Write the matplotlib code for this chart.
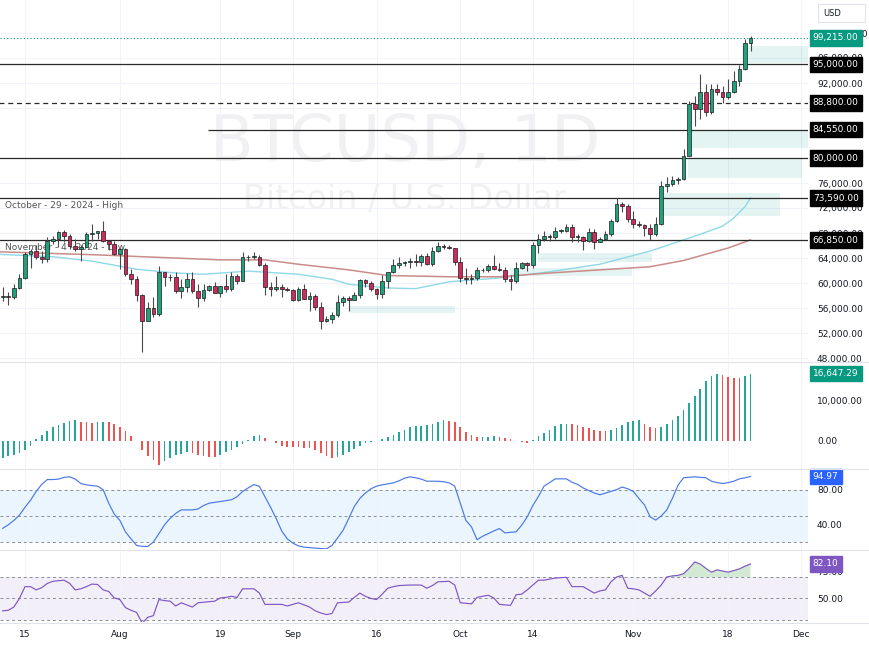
import numpy as np
import pandas as pd
import matplotlib
matplotlib.use("Agg")
import matplotlib.pyplot as plt
from matplotlib.patches import Rectangle
from matplotlib.lines import Line2D
from matplotlib.transforms import blended_transform_factory

# --- daily BTCUSD candles, 2024-07-11 .. 2024-11-22 (thousands USD) ---
start = pd.Timestamp("2024-07-11")
opens = [57.7, 57.9, 57.7, 59.2, 60.8, 64.7, 65.1, 64.1, 63.9, 66.7,
         67.1, 68.2, 67.6, 65.9, 65.4, 65.8, 67.9, 68.0, 68.3, 66.8,
         66.2, 64.6, 65.4, 61.5, 60.7, 58.1, 54.0, 56.0, 55.1, 61.7,
         60.9, 60.9, 58.7, 59.4, 60.6, 58.7, 57.6, 58.9, 59.5, 58.4,
         59.5, 59.0, 61.2, 60.4, 64.1, 64.2, 64.2, 62.9, 59.4, 59.0,
         59.4, 59.1, 58.9, 57.3, 59.1, 57.5, 58.0, 56.2, 53.9, 54.2,
         54.9, 57.0, 57.6, 57.3, 58.1, 60.5, 60.0, 59.1, 58.2, 60.3,
         61.8, 62.9, 63.2, 63.4, 63.6, 63.3, 64.3, 63.1, 65.2, 65.9,
         65.8, 65.6, 63.3, 60.8, 60.6, 60.8, 62.1, 62.1, 62.8, 62.2,
         62.1, 60.6, 60.3, 62.4, 63.2, 62.9, 66.1, 67.0, 67.6, 67.4,
         68.4, 68.4, 69.0, 67.4, 67.4, 66.7, 68.2, 66.6, 67.0, 67.9,
         69.9, 72.7, 72.3, 70.2, 69.5, 69.3, 68.8, 67.8, 69.4, 75.6,
         75.9, 76.5, 76.7, 80.4, 88.7, 87.9, 90.5, 87.3, 91.0, 90.6,
         89.8, 90.5, 92.3, 94.3, 98.4]
highs = [59.4, 58.5, 59.8, 61.4, 64.9, 65.4, 66.1, 65.1, 67.4, 67.6,
         68.4, 68.5, 67.8, 67.1, 66.1, 68.2, 69.4, 68.3, 70.0, 66.9,
         66.8, 65.6, 65.6, 62.2, 61.1, 58.3, 57.0, 57.7, 62.7, 61.7,
         61.4, 61.7, 60.7, 61.6, 61.8, 59.8, 59.8, 59.7, 60.2, 59.6,
         61.4, 61.8, 61.4, 64.9, 64.5, 64.9, 64.5, 63.2, 60.2, 61.2,
         59.9, 59.4, 59.0, 59.4, 59.8, 58.5, 58.3, 56.9, 54.8, 55.3,
         58.1, 58.0, 57.9, 58.6, 60.6, 60.6, 60.4, 59.2, 61.3, 61.8,
         63.9, 64.1, 63.6, 64.0, 64.7, 64.7, 64.8, 65.8, 66.5, 66.3,
         66.1, 65.6, 64.1, 62.4, 61.5, 62.5, 62.4, 63.0, 64.5, 63.2,
         62.5, 61.3, 63.4, 63.4, 63.3, 66.5, 67.9, 68.4, 67.9, 68.9,
         68.7, 69.4, 69.5, 67.8, 67.5, 68.8, 68.7, 67.3, 68.3, 70.3,
         73.6, 72.9, 72.7, 71.6, 70.0, 69.4, 69.5, 70.6, 76.4, 76.9,
         77.2, 76.9, 81.5, 89.1, 89.9, 93.5, 91.8, 91.8, 91.8, 91.5,
         92.6, 94.0, 94.9, 99.0, 99.6]
lows = [57.2, 56.5, 57.4, 59.0, 60.6, 62.4, 63.9, 63.2, 63.3, 66.3,
        65.8, 66.6, 65.5, 65.1, 63.5, 65.8, 66.7, 67.1, 66.5, 65.3,
        64.5, 62.3, 61.2, 59.9, 57.2, 49.0, 53.9, 54.6, 54.8, 59.6,
        60.3, 58.4, 57.6, 58.5, 58.4, 56.1, 57.1, 58.8, 58.4, 57.8,
        58.6, 58.8, 59.8, 60.3, 63.6, 63.8, 62.8, 58.1, 57.9, 58.8,
        57.8, 58.8, 57.2, 57.1, 57.4, 55.6, 55.7, 52.6, 53.7, 53.6,
        54.6, 56.4, 55.6, 57.3, 57.6, 59.4, 58.7, 57.5, 57.6, 59.2,
        61.6, 62.4, 62.8, 62.4, 62.7, 62.7, 62.9, 62.7, 64.9, 65.4,
        65.4, 62.9, 60.2, 59.9, 59.9, 60.5, 61.7, 61.8, 62.1, 61.9,
        60.2, 58.9, 60.0, 62.3, 62.0, 62.4, 64.8, 66.8, 66.7, 67.1,
        68.0, 68.1, 66.6, 66.6, 65.3, 66.6, 65.5, 66.6, 66.9, 67.5,
        69.7, 71.4, 69.7, 68.8, 69.0, 67.5, 66.85, 67.5, 69.3, 74.5,
        75.6, 75.9, 76.5, 80.3, 85.1, 86.2, 86.7, 87.1, 90.1, 88.8,
        89.4, 90.4, 91.5, 94.1, 97.2]
closes = [57.9, 57.7, 59.2, 60.8, 64.7, 65.1, 64.1, 63.9, 66.7, 67.1,
          68.2, 67.6, 65.9, 65.4, 65.8, 67.9, 68.0, 68.3, 66.8, 66.2,
          64.6, 65.4, 61.5, 60.7, 58.1, 54.0, 56.0, 55.1, 61.7, 60.9,
          60.9, 58.7, 59.4, 60.6, 58.7, 57.6, 58.9, 59.5, 58.4, 59.5,
          59.0, 61.2, 60.4, 64.1, 64.2, 64.2, 62.9, 59.4, 59.0, 59.4,
          59.1, 58.9, 57.3, 59.1, 57.5, 58.0, 56.2, 53.9, 54.2, 54.9,
          57.0, 57.6, 57.3, 58.1, 60.5, 60.0, 59.1, 58.2, 60.3, 61.8,
          62.9, 63.2, 63.4, 63.6, 63.3, 64.3, 63.1, 65.2, 65.9, 65.8,
          65.6, 63.3, 60.8, 60.6, 60.8, 62.1, 62.1, 62.8, 62.2, 62.1,
          60.6, 60.3, 62.4, 63.2, 62.9, 66.1, 67.0, 67.6, 67.4, 68.4,
          68.4, 69.0, 67.4, 67.4, 66.7, 68.2, 66.6, 67.0, 67.9, 69.9,
          72.7, 72.3, 70.2, 69.5, 69.3, 68.8, 67.8, 69.4, 75.6, 75.9,
          76.5, 76.7, 80.4, 88.7, 87.9, 90.5, 87.3, 91.0, 90.6, 89.8,
          90.5, 92.3, 94.3, 98.4, 99.215]

# momentum histogram (thousands)
hist = [-4.2, -3.8, -3.4, -3.0, -2.2, -1.2, 0.6, 1.5, 2.5, 3.5,
        3.9, 4.5, 5.0, 5.1, 4.7, 4.6, 4.5, 4.6, 4.8, 4.8,
        4.3, 3.5, 2.5, 1.2, -0.1, -2.2, -3.8, -4.6, -5.9, -5.0,
        -4.2, -3.4, -3.2, -2.8, -3.0, -3.4, -3.8, -3.9, -4.0, -3.4,
        -2.8, -2.2, -1.5, -0.7, 0.2, 1.2, 1.5, 0.7, 0.05, -0.6,
        -1.2, -1.5, -1.55, -1.6, -1.65, -1.8, -2.2, -3.0, -3.8, -4.2,
        -4.0, -3.4, -2.8, -2.0, -1.2, -0.6, -0.2, 0.1, 0.4, 0.9,
        1.5, 2.3, 2.8, 3.5, 3.6, 3.7, 3.9, 4.3, 4.7, 5.1,
        4.9, 4.7, 3.5, 2.3, 1.5, 0.9, 1.0, 1.1, 1.2, 1.1,
        0.7, 0.4, 0.1, -0.2, -0.4, 0.2, 1.2, 2.0, 2.8, 3.7,
        4.1, 4.3, 4.1, 3.9, 3.5, 3.1, 2.7, 2.5, 2.45, 2.7,
        3.1, 3.9, 4.7, 5.0, 5.1, 4.3, 3.5, 3.1, 3.5, 4.1,
        5.1, 6.1, 7.7, 9.3, 11.2, 12.8, 14.7, 16.1, 16.5, 16.3,
        15.8, 15.6, 15.55, 16.0, 16.64729]

stoch = [36, 40, 45, 51, 60, 68, 78, 86, 91.5, 91.5,
         92, 94, 94.6, 92, 87, 85.5, 84.6, 84, 80, 64.6,
         52, 45, 32, 24, 16.5, 15.5, 15.4, 20.4, 30, 40,
         47.3, 53, 57, 57, 57, 58, 62, 64.6, 65.5, 66.5,
         67.5, 68.5, 72, 78, 82, 85.8, 83.8, 72, 60, 47.3,
         33, 24, 19.2, 16, 14.6, 14, 13.5, 13, 12.7, 16.5,
         25, 33.8, 47, 60.8, 70, 76.2, 81, 84, 85.5, 86.5,
         87.7, 90, 93, 94.6, 93.5, 92, 89.6, 89.6, 89.6, 89,
         87.7, 84, 64.6, 45, 37.7, 23.1, 27, 30, 33, 35.8,
         30.8, 31.5, 32, 39.6, 49.2, 62, 72.3, 84, 88, 92.3,
         92.3, 92.3, 88.5, 86, 82, 79, 76.2, 74.2, 76, 78,
         80, 83, 81, 78, 70, 62.7, 49.2, 45.4, 50, 57,
         70, 85, 93.5, 94, 94.6, 94, 93.5, 89.6, 88, 87,
         88, 89.6, 92.3, 93.5, 94.97]

rsi = [38.5, 39, 42, 50, 61, 61, 58, 60, 64, 66,
       66.5, 67, 64, 58, 59, 61, 63.4, 63, 58, 56.5,
       50.5, 49, 41.5, 39, 37, 27, 32.5, 34, 49, 48,
       47.5, 43, 46, 44, 42, 46, 46.5, 47, 47.5, 50.5,
       51, 52, 51, 59, 59, 59, 55, 44.5, 44.5, 44.5,
       44.5, 43, 44.5, 46, 44, 42, 38.5, 36.5, 35, 36,
       46, 46.3, 46.6, 51, 55, 52, 50, 49, 54, 59.5,
       61, 62, 62.3, 62.5, 62.5, 62.5, 59.5, 62, 65.5, 65.8,
       66, 62.5, 46, 45.5, 45, 51, 52, 53, 50.5, 44.5,
       44, 43.6, 53.5, 54, 58, 62.5, 67, 67, 68, 69,
       69.3, 69.7, 61, 61, 61, 58, 55, 57, 58, 65.5,
       70, 71.5, 59.5, 59, 58, 55, 52, 57, 62.5, 70,
       71, 71.5, 73, 78, 84, 82, 78, 74.5, 76.6, 75.5,
       74.5, 76, 77.5, 80, 82.1]

# moving averages, read at a few candles (candle index, thousands)
ma_fast_idx = [-1, 9, 16, 24, 31, 36, 44, 53, 59, 62, 69, 74, 80, 89, 98,
               107, 116, 121, 125, 129, 131, 133, 134]
ma_fast = [64.6, 64.2, 63.5, 62.2, 61.6, 61.4, 61.9, 61.4, 60.6, 59.8, 59.2,
           59.1, 60.2, 60.8, 61.8, 63.0, 65.1, 66.6, 67.8, 69.1, 70.4, 72.2, 73.6]
ma_slow_idx = [-1, 17, 39, 47, 53, 62, 69, 80, 89, 98, 107, 116, 122, 130, 134]
ma_slow = [65.0, 64.5, 63.7, 63.7, 63.0, 62.1, 61.2, 61.0, 61.0, 61.6, 62.1,
           62.6, 63.6, 65.6, 66.9]

# horizontal levels
levels = [95000, 88800, 84550, 80000, 73590, 66850]
level_start = [-1, -1, 36.8, -1, -1, -1]
level_style = ["-", (0, (4, 3)), "-", "-", "-", "-"]

# demand/supply zones: (start idx, end idx, low, high) in thousands
zones = [(132.5, 146, 95.2, 98.0), (123.2, 146, 81.6, 84.55),
         (122.8, 143.2, 76.8, 80.0), (118.3, 139.3, 70.7, 74.4),
         (95.9, 116.4, 63.3, 64.8), (90.9, 112.8, 61.2, 62.4),
         (62.2, 81.1, 55.2, 56.3)]

price_ticks = [48000, 52000, 56000, 60000, 64000, 68000, 72000, 76000,
               88000, 92000, 96000, 100000]

tick_dates = ["2024-07-15", "2024-08-01", "2024-08-19", "2024-09-01", "2024-09-16",
              "2024-10-01", "2024-10-14", "2024-11-01", "2024-11-18", "2024-12-01"]
tick_labels = ["15", "Aug", "19", "Sep", "16", "Oct", "14", "Nov", "18", "Dec"]

# ---------------------------------------------------------------
o = np.array(opens) * 1000
h = np.array(highs) * 1000
l = np.array(lows) * 1000
c = np.array(closes) * 1000
x = np.arange(len(c))
hv = np.array(hist) * 1000
tick_x = [(pd.Timestamp(d) - start).days for d in tick_dates]
xmin, xmax = -0.48, 144.3

W, H = 870, 647
fig = plt.figure(figsize=(W / 100, H / 100), dpi=100)
fig.patch.set_facecolor("white")


def rect(top, bottom):
    return [0, 1 - bottom / H, 808 / W, (bottom - top) / H]


ax = fig.add_axes(rect(0, 361))
ah = fig.add_axes(rect(362, 468))
ast = fig.add_axes(rect(469, 549))
ar = fig.add_axes(rect(550, 622))

txt_col = "#131722"
grid_col = "#f0f3fa"
for a in (ax, ah, ast, ar):
    a.set_xlim(xmin, xmax)
    for s in a.spines.values():
        s.set_visible(False)
    a.yaxis.tick_right()
    a.tick_params(axis="y", length=0, pad=6.5, labelsize=6.5, labelcolor=txt_col)
    a.tick_params(axis="x", length=0, labelsize=6.5, labelcolor=txt_col)
    a.set_xticks(tick_x)
    a.set_xticklabels([])
    a.grid(axis="x", color=grid_col, lw=0.8)
    a.set_axisbelow(True)
ar.set_xticklabels(tick_labels)
ar.tick_params(axis="x", pad=6)

fmt = matplotlib.ticker.FuncFormatter(lambda v, p: f"{v:,.2f}")

# ---- main price panel ----
ax.set_ylim(47520, 105280)
ax.set_yticks(price_ticks)
ax.yaxis.set_major_formatter(fmt)
ax.grid(axis="y", color=grid_col, lw=0.8)

ax.text(0.501, 0.604, "BTCUSD, 1D", transform=ax.transAxes, ha="center",
        va="center", fontsize=46, color="#f1f1f3", zorder=0)
ax.text(0.501, 0.446, "Bitcoin / U.S. Dollar", transform=ax.transAxes,
        ha="center", va="center", fontsize=24, color="#f1f1f3", zorder=0)

for x0, x1, lo, hi in zones:
    ax.add_patch(Rectangle((x0, lo * 1000), x1 - x0, (hi - lo) * 1000,
                           facecolor="#26a69a", alpha=0.12, lw=0, zorder=1))

ax.plot(ma_fast_idx, np.array(ma_fast) * 1000, color="#8fd8e8", lw=1.0, zorder=1.5)
ax.plot(ma_slow_idx, np.array(ma_slow) * 1000, color="#c98c88", lw=1.1, zorder=1.5)

for lv, xs, ls in zip(levels, level_start, level_style):
    ax.hlines(lv, xs, xmax + 2, colors="#2a2a2a", linestyles=[ls], lw=0.9, zorder=1.6)
ax.axhline(closes[-1] * 1000, color="#089981", ls=(0, (1, 2)), lw=0.8, zorder=1.6)

ytr = blended_transform_factory(ax.transAxes, ax.transData)
ax.annotate("October - 29 - 2024 - High", (0.006, 73590), xycoords=ytr,
            xytext=(0, -2), textcoords="offset points", va="top", ha="left",
            fontsize=6.5, color="#555555", zorder=1.2)
ax.annotate("November - 4 - 2024 - Low", (0.006, 66850), xycoords=ytr,
            xytext=(0, -2), textcoords="offset points", va="top", ha="left",
            fontsize=6.5, color="#555555", zorder=1.2)

up = c >= o
ax.vlines(x, l, h, color="#4a4a4a", lw=0.8, zorder=2)
ax.bar(x, np.maximum(np.abs(c - o), 60), bottom=np.minimum(o, c), width=0.66,
       color=np.where(up, "#22a07c", "#cf2a5c"), edgecolor="#1c1c1c",
       lw=0.5, zorder=3)


def tag(a, y, text, bg):
    tr = blended_transform_factory(a.transAxes, a.transData)
    a.text(1.006, y, text, transform=tr, ha="left", va="center", fontsize=6.5,
           color="white", zorder=10, clip_on=False,
           bbox=dict(boxstyle="square,pad=0.36", fc=bg, ec=bg))


tag(ax, closes[-1] * 1000, f"{closes[-1] * 1000:,.2f}", "#089981")
for lv in levels:
    tag(ax, lv, f"{lv:,.2f}", "#000000")

# ---- histogram ----
ah.set_ylim(-6670, 19500)
ah.set_yticks([0, 10000])
ah.yaxis.set_major_formatter(fmt)
rising = np.r_[True, hv[1:] > hv[:-1]]
ah.bar(x, hv, width=0.3, color=np.where(rising, "#26a69a", "#ef5350"), zorder=2)
tag(ah, hv[-1], f"{hv[-1]:,.2f}", "#089981")

# ---- stochastic ----
ast.set_ylim(12.5, 103.5)
ast.set_yticks([40, 80])
ast.yaxis.set_major_formatter(fmt)
ast.axhspan(20, 80, color="#2196f3", alpha=0.09, lw=0, zorder=0)
for lv in (80, 50, 20):
    ast.axhline(lv, color="#8a8d96", ls=(0, (3, 3)), lw=0.7, zorder=1)
ast.plot(x, stoch, color="#4a78e6", lw=0.85, zorder=3)
tag(ast, stoch[-1], f"{stoch[-1]:.2f}", "#2962ff")

# ---- RSI ----
ar.set_ylim(28.1, 95.1)
ar.set_yticks([50, 75])
ar.yaxis.set_major_formatter(fmt)
ar.axhspan(30, 70, color="#7e57c2", alpha=0.09, lw=0, zorder=0)
for lv in (70, 50, 30):
    ar.axhline(lv, color="#8a8d96", ls=(0, (3, 3)), lw=0.7, zorder=1)
rv = np.array(rsi)
ar.fill_between(x, 70, rv, where=rv > 70, interpolate=True, color="#4caf50",
                alpha=0.25, lw=0, zorder=2)
ar.plot(x, rv, color="#7e57c2", lw=0.85, zorder=3)
tag(ar, rv[-1], f"{rv[-1]:.2f}", "#7e57c2")

# panel separators
for yy in (361.5, 468.5, 549.5, 622.5):
    fig.add_artist(Line2D([0, 1], [1 - yy / H] * 2, transform=fig.transFigure,
                          color="#e0e3eb", lw=0.8))

# currency box
fig.add_artist(Rectangle((818 / W, 1 - 22 / H), 47 / W, 18 / H,
                         transform=fig.transFigure, fc="white", ec="#e0e3eb", lw=0.8))
fig.text(823 / W, 1 - 13 / H, "USD", fontsize=6, color=txt_col, va="center")

fig.savefig("out.png", dpi=100, facecolor="white")
